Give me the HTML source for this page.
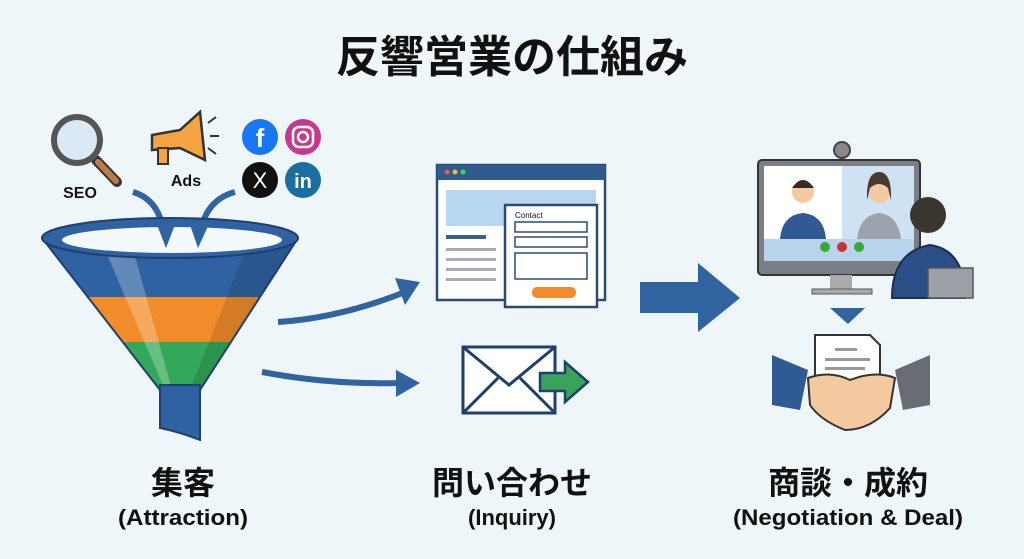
<!DOCTYPE html>
<html><head><meta charset="utf-8"><style>
html,body{margin:0;padding:0;background:#eef6fa;}
svg{display:block}
text{font-family:"Liberation Sans","Noto Sans CJK JP",sans-serif;font-weight:bold;fill:#111}
</style></head><body>
<svg width="1024" height="559" viewBox="0 0 1024 559" xmlns="http://www.w3.org/2000/svg">
<rect width="1024" height="559" fill="#eef6fa"/>
<text x="512" y="72" font-size="44" text-anchor="middle">反響営業の仕組み</text>

<!-- SEO magnifier -->
<line x1="96" y1="160" x2="117" y2="182" stroke="#333" stroke-width="10" stroke-linecap="round"/>
<line x1="98" y1="162" x2="116" y2="181" stroke="#c07a45" stroke-width="6" stroke-linecap="round"/>
<circle cx="77" cy="140" r="23" fill="#dbe9f6" stroke="#555" stroke-width="6"/>
<text x="80" y="198" font-size="16" text-anchor="middle">SEO</text>
<!-- megaphone -->
<path d="M152 135 L180 130 L200 112 L205 160 L180 148 L152 150 Z" fill="#f4a340" stroke="#333" stroke-width="2.5"/>
<rect x="158" y="148" width="10" height="16" fill="#f4a340" stroke="#333" stroke-width="2"/>
<path d="M208 123 L216 117 M210 136 L219 136 M208 148 L216 154" stroke="#333" stroke-width="2"/>
<text x="186" y="186" font-size="16" text-anchor="middle">Ads</text>
<!-- social -->
<circle cx="260" cy="137" r="18" fill="#1877f2"/><text x="260" y="147" font-size="26" text-anchor="middle" style="fill:#fff">f</text>
<circle cx="303" cy="137" r="18" fill="#c8388f"/><rect x="293" y="127" width="20" height="20" rx="6" fill="none" stroke="#fff" stroke-width="2.5"/><circle cx="303" cy="137" r="5" fill="none" stroke="#fff" stroke-width="2.5"/>
<circle cx="260" cy="180" r="18" fill="#111"/><text x="260" y="188" font-size="22" text-anchor="middle" style="fill:#fff;font-weight:normal">X</text>
<circle cx="303" cy="180" r="18" fill="#1b6fa0"/><text x="303" y="188" font-size="20" text-anchor="middle" style="fill:#fff">in</text>
<!-- curved arrows into funnel -->
<path d="M133 192 Q160 200 164 235" fill="none" stroke="#2f64a0" stroke-width="6"/>
<path d="M235 192 Q205 200 200 235" fill="none" stroke="#2f64a0" stroke-width="6"/>

<!-- funnel -->
<defs><clipPath id="cone"><path d="M42 238 L298 238 L200 390 L160 390 Z"/></clipPath></defs>
<g clip-path="url(#cone)">
<rect x="40" y="230" width="260" height="67" fill="#2f62a3"/>
<rect x="40" y="297" width="260" height="45" fill="#f28c2b"/>
<rect x="40" y="342" width="260" height="50" fill="#33a85a"/>
<path d="M100 238 L130 238 L172 390 L165 390 Z" fill="#fff" opacity="0.25"/>
<path d="M250 238 L300 238 L200 390 L190 390 Z" fill="#000" opacity="0.12"/>
</g>
<path d="M42 238 L160 390 M298 238 L200 390" stroke="#1f3f6e" stroke-width="2"/>
<path d="M160 385 L200 385 L200 440 Q180 432 160 428 Z" fill="#2f62a3" stroke="#1f3f6e" stroke-width="2"/>
<ellipse cx="170" cy="238" rx="128" ry="20" fill="#2f62a3" stroke="#1f3f6e" stroke-width="2"/>
<ellipse cx="172" cy="240" rx="110" ry="13" fill="#f4f9fc"/>
<path d="M156 222 L166 248 L176 222Z" fill="#2f64a0"/><path d="M189 222 L198 248 L210 222Z" fill="#2f64a0"/>

<!-- arrows from funnel -->
<path d="M278 322 Q340 318 405 292" fill="none" stroke="#2f64a0" stroke-width="6"/>
<path d="M395 278 L420 282 L405 305Z" fill="#2f64a0"/>
<path d="M262 372 Q330 385 400 383" fill="none" stroke="#2f64a0" stroke-width="6"/>
<path d="M396 370 L420 383 L396 397Z" fill="#2f64a0"/>

<!-- browser -->
<rect x="437" y="165" width="168" height="135" fill="#fff" stroke="#2c4a72" stroke-width="2.5"/>
<rect x="437" y="165" width="168" height="15" fill="#2f5a8f"/>
<circle cx="447" cy="172" r="2.5" fill="#e55"/><circle cx="455" cy="172" r="2.5" fill="#eb4"/><circle cx="463" cy="172" r="2.5" fill="#5c5"/>
<rect x="446" y="190" width="150" height="36" fill="#b8d6ef"/>
<rect x="446" y="235" width="40" height="4" fill="#3a5f8a"/>
<rect x="446" y="248" width="50" height="3" fill="#aab"/><rect x="446" y="258" width="50" height="3" fill="#aab"/><rect x="446" y="268" width="50" height="3" fill="#aab"/><rect x="446" y="278" width="50" height="3" fill="#aab"/>
<rect x="505" y="205" width="92" height="102" fill="#fff" stroke="#2c4a72" stroke-width="2.5"/>
<text x="515" y="218" font-size="8" style="font-weight:normal">Contact</text>
<rect x="515" y="222" width="72" height="10" fill="#fff" stroke="#2c4a72" stroke-width="1.5"/>
<rect x="515" y="237" width="72" height="10" fill="#fff" stroke="#2c4a72" stroke-width="1.5"/>
<rect x="515" y="253" width="72" height="26" fill="#fff" stroke="#2c4a72" stroke-width="1.5"/>
<rect x="532" y="287" width="44" height="11" rx="5" fill="#f28c2b"/>

<!-- envelope -->
<rect x="463" y="347" width="92" height="66" fill="#fff" stroke="#1f3f6e" stroke-width="3"/>
<path d="M463 347 L509 385 L555 347 M463 413 L498 378 M555 413 L520 378" fill="none" stroke="#1f3f6e" stroke-width="3"/>
<path d="M540 373 L565 373 L565 362 L588 382 L565 402 L565 391 L540 391Z" fill="#3aa35a" stroke="#1f3f6e" stroke-width="2.5"/>

<!-- big arrow -->
<path d="M640 282 L698 282 L698 263 L740 298 L698 332 L698 313 L640 313Z" fill="#2f64a0"/>

<!-- monitor -->
<circle cx="842" cy="150" r="8" fill="#888" stroke="#444" stroke-width="2"/>
<rect x="758" y="160" width="162" height="115" rx="4" fill="#7a7f86" stroke="#333" stroke-width="2"/>
<rect x="764" y="166" width="150" height="95" fill="#fff"/>
<rect x="842" y="166" width="72" height="73" fill="#cfe2f3"/>
<rect x="764" y="239" width="150" height="22" fill="#b9d3ea"/>
<circle cx="825" cy="247" r="5" fill="#3a3"/><circle cx="842" cy="247" r="5" fill="#c33"/><circle cx="859" cy="247" r="5" fill="#3a3"/>
<path d="M780 239 Q782 215 803 213 Q824 215 826 239Z" fill="#2f5a94"/><circle cx="803" cy="192" r="11" fill="#f3c9a2"/><path d="M792 188 Q803 172 814 188Z" fill="#3a2a20"/>
<path d="M857 239 Q860 215 879 213 Q898 215 901 239Z" fill="#9ca3ab"/><circle cx="879" cy="192" r="11" fill="#f3c9a2"/><path d="M867 200 Q866 172 879 172 Q892 172 891 200 L888 188 Q879 180 870 188Z" fill="#4a3a30"/>
<rect x="830" y="275" width="22" height="14" fill="#aaa"/><rect x="812" y="289" width="60" height="5" fill="#aaa" stroke="#555"/>
<path d="M892 298 Q892 252 930 245 Q965 250 965 298Z" fill="#2a4f86" stroke="#1a2f50" stroke-width="2"/>
<circle cx="928" cy="215" r="18" fill="#3b3530"/>
<rect x="928" y="268" width="45" height="30" fill="#9aa0a6" stroke="#555" stroke-width="1.5"/>
<path d="M830 308 L865 308 L848 324Z" fill="#2f64a0"/>

<!-- handshake -->
<path d="M772 355 L808 370 L800 410 L772 405Z" fill="#2f5a94"/>
<path d="M930 355 L895 370 L903 410 L930 405Z" fill="#686d73"/>
<path d="M815 335 L870 335 L880 345 L880 380 L815 380Z" fill="#fff" stroke="#333" stroke-width="2"/>
<rect x="835" y="348" width="22" height="3" fill="#999"/><rect x="825" y="358" width="45" height="3" fill="#999"/><rect x="825" y="367" width="40" height="3" fill="#999"/>
<path d="M808 378 Q830 370 850 380 Q875 370 895 378 L890 408 Q870 430 845 430 Q820 420 810 405Z" fill="#f5c9a0" stroke="#333" stroke-width="2"/>

<!-- labels -->
<text x="183" y="494" font-size="32" text-anchor="middle">集客</text>
<text x="183" y="525" font-size="22" text-anchor="middle" textLength="130" lengthAdjust="spacingAndGlyphs">(Attraction)</text>
<text x="512" y="494" font-size="32" text-anchor="middle">問い合わせ</text>
<text x="512" y="525" font-size="22" text-anchor="middle">(Inquiry)</text>
<text x="848" y="494" font-size="32" text-anchor="middle">商談・成約</text>
<text x="848" y="525" font-size="22" text-anchor="middle" textLength="230" lengthAdjust="spacingAndGlyphs">(Negotiation &amp; Deal)</text>
</svg>
</body></html>
